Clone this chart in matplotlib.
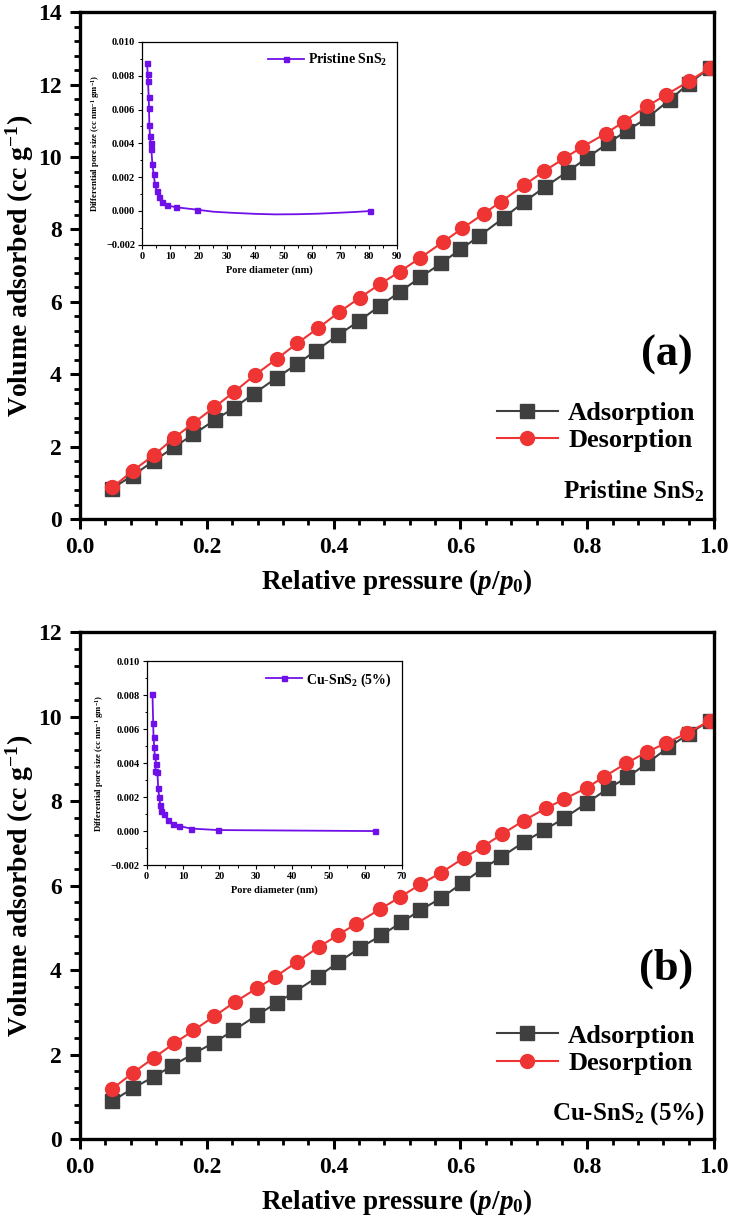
import numpy as np
import matplotlib
matplotlib.use('Agg')
import matplotlib.pyplot as plt
from matplotlib.ticker import MultipleLocator, FuncFormatter

plt.rcParams['font.family'] = ['Liberation Serif', 'DejaVu Serif']
plt.rcParams['font.weight'] = 'bold'
plt.rcParams['axes.labelweight'] = 'bold'
plt.rcParams['mathtext.fontset'] = 'custom'
plt.rcParams['mathtext.rm'] = 'Liberation Serif:bold'
plt.rcParams['mathtext.it'] = 'Liberation Serif:bold:italic'
plt.rcParams['mathtext.bf'] = 'Liberation Serif:bold'

# ---------------- datos: panel (a) Pristine SnS2 ----------------
a_ads_x = [0.05, 0.083, 0.117, 0.148, 0.179, 0.213, 0.243, 0.274, 0.31, 0.343,
           0.372, 0.407, 0.44, 0.473, 0.504, 0.537, 0.569, 0.6, 0.63, 0.668,
           0.701, 0.733, 0.769, 0.799, 0.833, 0.862, 0.895, 0.93, 0.96, 0.993]
a_ads_y = [0.84, 1.2, 1.61, 1.98, 2.34, 2.74, 3.07, 3.46, 3.9, 4.29,
           4.65, 5.08, 5.47, 5.89, 6.27, 6.68, 7.06, 7.45, 7.82, 8.32,
           8.77, 9.17, 9.6, 9.97, 10.39, 10.72, 11.09, 11.58, 12.03, 12.46]
a_des_x = [0.051, 0.083, 0.117, 0.149, 0.179, 0.212, 0.243, 0.276, 0.31, 0.343,
           0.376, 0.409, 0.441, 0.473, 0.504, 0.537, 0.573, 0.603, 0.637, 0.664,
           0.70, 0.732, 0.764, 0.792, 0.829, 0.858, 0.895, 0.924, 0.96, 0.993]
a_des_y = [0.87, 1.33, 1.77, 2.25, 2.65, 3.09, 3.51, 3.98, 4.42, 4.86,
           5.28, 5.72, 6.11, 6.49, 6.83, 7.22, 7.66, 8.03, 8.44, 8.77,
           9.22, 9.61, 9.97, 10.28, 10.65, 10.98, 11.41, 11.72, 12.09, 12.46]

# inset (a): distribución de poros
a_pore_d = [1.76, 1.99, 2.1, 2.35, 2.46, 2.58, 2.82, 3.05, 3.29, 3.64,
            4.1, 4.58, 5.16, 5.98, 7.16, 8.8, 12.09, 19.36, 80.6]
a_pore_v = [0.00878, 0.00813, 0.00772, 0.00675, 0.0061, 0.00506, 0.00443, 0.004, 0.00364, 0.00281,
            0.00217, 0.00159, 0.0012, 0.00081, 0.00053, 0.00033, 0.00022, 0.00008, 0.0]
# trazo de la curva (spline) entre 19 y 81 nm
a_tail_d = [25, 31, 40, 47, 55, 62, 70, 76]
a_tail_v = [-0.00004, -0.0001, -0.00017, -0.0002, -0.00019, -0.00016, -0.0001, -0.00005]

# ---------------- datos: panel (b) Cu-SnS2 (5%) ----------------
b_ads_x = [0.05, 0.083, 0.117, 0.145, 0.179, 0.211, 0.242, 0.279, 0.311, 0.338,
           0.375, 0.407, 0.442, 0.475, 0.507, 0.537, 0.569, 0.603, 0.635, 0.664,
           0.70, 0.732, 0.764, 0.80, 0.833, 0.863, 0.894, 0.928, 0.96, 0.993]
b_ads_y = [0.89, 1.2, 1.48, 1.73, 2.02, 2.28, 2.57, 2.93, 3.23, 3.48,
           3.84, 4.18, 4.53, 4.82, 5.13, 5.42, 5.7, 6.06, 6.4, 6.67,
           7.03, 7.31, 7.6, 7.96, 8.3, 8.56, 8.89, 9.27, 9.59, 9.9]
b_des_x = [0.05, 0.083, 0.117, 0.149, 0.179, 0.212, 0.245, 0.279, 0.308, 0.343,
           0.377, 0.407, 0.436, 0.473, 0.504, 0.537, 0.569, 0.605, 0.635, 0.666,
           0.70, 0.735, 0.764, 0.80, 0.827, 0.861, 0.894, 0.924, 0.958, 0.993]
b_des_y = [1.18, 1.56, 1.93, 2.27, 2.57, 2.91, 3.25, 3.57, 3.84, 4.2,
           4.55, 4.83, 5.1, 5.44, 5.72, 6.03, 6.3, 6.65, 6.92, 7.22,
           7.54, 7.83, 8.05, 8.32, 8.58, 8.89, 9.16, 9.37, 9.61, 9.9]

b_pore_d = [1.64, 1.83, 1.92, 2.1, 2.28, 2.65, 2.38, 3.0, 3.2, 3.47,
            3.75, 4.1, 4.66, 5.94, 7.13, 8.86, 12.15, 19.47, 62.7]
b_pore_v = [0.00808, 0.00635, 0.00556, 0.00496, 0.00443, 0.00397, 0.00357, 0.00346, 0.00251, 0.00203,
            0.00156, 0.0012, 0.00099, 0.00068, 0.0004, 0.0003, 0.00015, 0.00006, 0.0]

C_ADS = '#3f3f3f'
C_DES = '#ef3434'
C_PORE = '#7010e8'


def minus_fmt(v, pos):
    s = '%.3f' % v
    return s.replace('-', '\u2212')


def negritas(ax):
    for t in ax.get_xticklabels() + ax.get_yticklabels():
        t.set_fontweight('bold')


def panel_principal(rect, ads_x, ads_y, des_x, des_y, ymax, letra, muestra,
                    y_letra, y_muestra):
    ax = fig.add_axes(rect)
    ax.plot(ads_x, ads_y, color=C_ADS, lw=1.5, marker='s', ms=9.5,
            mfc=C_ADS, mec=C_ADS, label='Adsorption')
    ax.plot(des_x, des_y, color=C_DES, lw=1.5, marker='o', ms=10,
            mfc=C_DES, mec=C_DES, label='Desorption')
    ax.set_xlim(0, 1.0)
    ax.set_ylim(0, ymax)
    ax.xaxis.set_major_locator(MultipleLocator(0.2))
    ax.xaxis.set_minor_locator(MultipleLocator(0.04))
    ax.yaxis.set_major_locator(MultipleLocator(2))
    ax.yaxis.set_minor_locator(MultipleLocator(0.4))
    ax.xaxis.set_major_formatter(FuncFormatter(lambda v, p: '%.1f' % v))
    ax.tick_params(which='major', direction='out', length=7, width=2.2,
                   labelsize=17, pad=6)
    ax.tick_params(which='minor', direction='out', length=4, width=2.0)
    negritas(ax)
    for s in ax.spines.values():
        s.set_linewidth(2.4)
    ax.set_xlabel(r'Relative pressure ($p/p_{\mathit{0}}$)', fontsize=19.5)
    ax.set_ylabel(r'Volume adsorbed (cc g$^{-1}$)', fontsize=20)
    ax.xaxis.set_label_coords(0.5, -0.095)
    ax.yaxis.set_label_coords(-0.07, 0.5)
    ax.legend(loc='lower right', bbox_to_anchor=(1.0, y_muestra + 0.04),
              frameon=False, fontsize=19, handlelength=2.3,
              handletextpad=0.4, labelspacing=0.15, borderaxespad=0.3)
    ax.text(0.985, y_muestra, muestra, transform=ax.transAxes, ha='right',
            va='center', fontsize=18, fontweight='bold')
    ax.text(0.925, y_letra, letra, transform=ax.transAxes, ha='center',
            va='center', fontsize=32, fontweight='bold')
    return ax


def inset_poros(rect, d, v, etiqueta, xmax, tail_d=None, tail_v=None):
    ax = fig.add_axes(rect)
    if tail_d is not None:
        ax.plot(list(d[:-1]) + list(tail_d) + [d[-1]],
                list(v[:-1]) + list(tail_v) + [v[-1]],
                color=C_PORE, lw=1.3)
        ax.plot(d, v, ls='none', marker='s', ms=3.6, color=C_PORE)
        ax.plot([], [], color=C_PORE, lw=1.3, marker='s', ms=3.6, label=etiqueta)
    else:
        ax.plot(d, v, color=C_PORE, lw=1.3, marker='s', ms=3.6, label=etiqueta)
    ax.set_xlim(0, xmax)
    ax.set_ylim(-0.002, 0.010)
    ax.xaxis.set_major_locator(MultipleLocator(10))
    ax.xaxis.set_minor_locator(MultipleLocator(5))
    ax.yaxis.set_major_locator(MultipleLocator(0.002))
    ax.yaxis.set_minor_locator(MultipleLocator(0.001))
    ax.yaxis.set_major_formatter(FuncFormatter(minus_fmt))
    ax.tick_params(which='major', direction='out', length=3, width=0.8,
                   labelsize=7.5, pad=2)
    ax.tick_params(which='minor', direction='out', length=1.8, width=0.7)
    negritas(ax)
    for s in ax.spines.values():
        s.set_linewidth(0.9)
    ax.set_xlabel('Pore diameter (nm)', fontsize=7.5, labelpad=3)
    ax.set_ylabel(r'Differential pore size (cc nm$^{-1}$ gm$^{-1}$)',
                  fontsize=6.3, labelpad=3)
    ax.legend(loc='upper right', frameon=False, fontsize=10, handlelength=2.6,
              handletextpad=0.3, borderaxespad=0.3)
    return ax


fig = plt.figure(figsize=(7.34, 12.24), dpi=100)

panel_principal([0.109, 0.576, 0.8638, 0.4139], a_ads_x, a_ads_y, a_des_x, a_des_y,
                14, '(a)', r'Pristine SnS$_2$', 0.325, 0.055)
inset_poros([0.1935, 0.80, 0.3474, 0.1657], a_pore_d, a_pore_v,
            r'Pristine SnS$_2$', 90, a_tail_d, a_tail_v)

panel_principal([0.109, 0.0694, 0.8638, 0.4142], b_ads_x, b_ads_y, b_des_x, b_des_y,
                12, '(b)', r'Cu-SnS$_2$ (5%)', 0.335, 0.05)
inset_poros([0.1996, 0.2933, 0.348, 0.1663], b_pore_d, b_pore_v,
            r'Cu-SnS$_2$ (5%)', 70)

fig.savefig('out.png', dpi=100)
